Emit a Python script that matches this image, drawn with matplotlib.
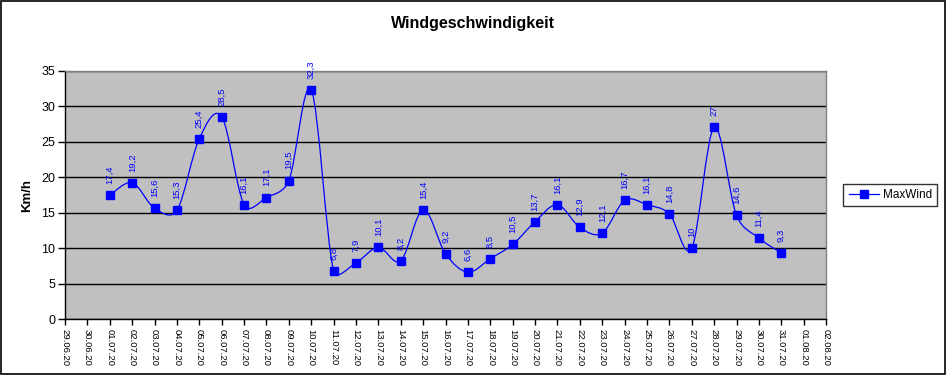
import matplotlib
matplotlib.use("Agg")
import matplotlib.pyplot as plt
import matplotlib.dates as mdates
from matplotlib.path import Path
from matplotlib.patches import PathPatch, Rectangle
from matplotlib.lines import Line2D
import numpy as np
import pandas as pd

plt.rcParams["font.family"] = ["Liberation Sans", "DejaVu Sans"]

# axis dates (tick labels) and measured days
axis_days = pd.date_range("2020-06-29", "2020-08-02", freq="D")
wind_days = pd.date_range("2020-07-01", "2020-07-31", freq="D")
max_wind = [17.4, 19.2, 15.6, 15.3, 25.4, 28.5, 16.1, 17.1, 19.5, 32.3,
            6.8, 7.9, 10.1, 8.2, 15.4, 9.2, 6.6, 8.5, 10.5, 13.7,
            16.1, 12.9, 12.1, 16.7, 16.1, 14.8, 10.0, 27.0, 14.6, 11.4, 9.3]

BLUE = "#0000ff"

fig = plt.figure(figsize=(9.46, 3.75), dpi=100)
fig.patch.set_facecolor("white")
fig.patches.append(Rectangle((0.0008, 0.0015), 0.9982, 0.9965, transform=fig.transFigure,
                             fill=False, edgecolor="black", linewidth=1.2))

ax = fig.add_axes([0.0687, 0.1493, 0.8045, 0.6627])
ax.set_facecolor("#c0c0c0")

ax.set_ylim(0, 35)
ax.set_xlim(mdates.date2num(axis_days[0]), mdates.date2num(axis_days[-1]))

xs = mdates.date2num(wind_days.to_pydatetime())
ys = max_wind


def smooth_path(x, y):
    # spreadsheet-style smoothing: bezier with 1/6 tangents, capped at half the segment
    pts = ax.transData.transform(np.column_stack([x, y]))
    n = len(pts)
    verts = [pts[0]]
    codes = [Path.MOVETO]
    for i in range(n - 1):
        p0 = pts[i - 1] if i > 0 else pts[i]
        p1, p2 = pts[i], pts[i + 1]
        p3 = pts[i + 2] if i + 2 < n else p2
        half = np.hypot(*(p2 - p1)) / 2
        t1 = (p2 - p0) / 6
        t2 = (p3 - p1) / 6
        if np.hypot(*t1) > half:
            t1 = t1 * half / np.hypot(*t1)
        if np.hypot(*t2) > half:
            t2 = t2 * half / np.hypot(*t2)
        verts += [p1 + t1, p2 - t2, p2]
        codes += [Path.CURVE4] * 3
    verts = ax.transData.inverted().transform(np.array(verts))
    return Path(verts, codes)


ax.add_patch(PathPatch(smooth_path(xs, ys), fill=False, edgecolor=BLUE, linewidth=0.9, zorder=3))
ax.plot(xs, ys, linestyle="none", marker="s", markersize=5.2, color=BLUE, zorder=4)

for x, y in zip(xs, ys):
    ax.annotate(f"{y:g}".replace(".", ","), (x, y), xytext=(0, 8), textcoords="offset points",
                rotation=90, ha="center", va="bottom", fontsize=6.8, color=BLUE)

ax.set_yticks(range(0, 36, 5))
ax.tick_params(axis="y", labelsize=9, direction="out", length=5, width=1, pad=2)
ax.grid(axis="y", color="black", linewidth=1)
ax.set_axisbelow(True)

ax.set_xticks(mdates.date2num(axis_days.to_pydatetime()))
ax.set_xticklabels([d.strftime("%d.%m.%y") for d in axis_days], rotation=270, fontsize=6.8)
ax.tick_params(axis="x", direction="out", length=4, width=1, pad=3)

for side in ("top", "right"):
    ax.spines[side].set_color("#808080")
    ax.spines[side].set_linewidth(1)
for side in ("left", "bottom"):
    ax.spines[side].set_color("black")
    ax.spines[side].set_linewidth(1)

fig.text(0.5, 0.938, "Windgeschwindigkeit", ha="center", va="center",
         fontsize=11.5, fontweight="bold")
fig.text(0.0285, 0.48, "Km/h", ha="center", va="center", rotation=90,
         fontsize=9.5, fontweight="bold")

handle = Line2D([], [], color=BLUE, linewidth=0.9, marker="s", markersize=5.2)
leg = fig.legend([handle], ["MaxWind"], loc="center", bbox_to_anchor=(0.941, 0.48),
                 fontsize=8.5, frameon=True, fancybox=False, handlelength=2.6,
                 borderpad=0.45, handletextpad=0.3)
leg.get_frame().set_edgecolor("black")
leg.get_frame().set_linewidth(1)

fig.savefig("out.png", dpi=100)
